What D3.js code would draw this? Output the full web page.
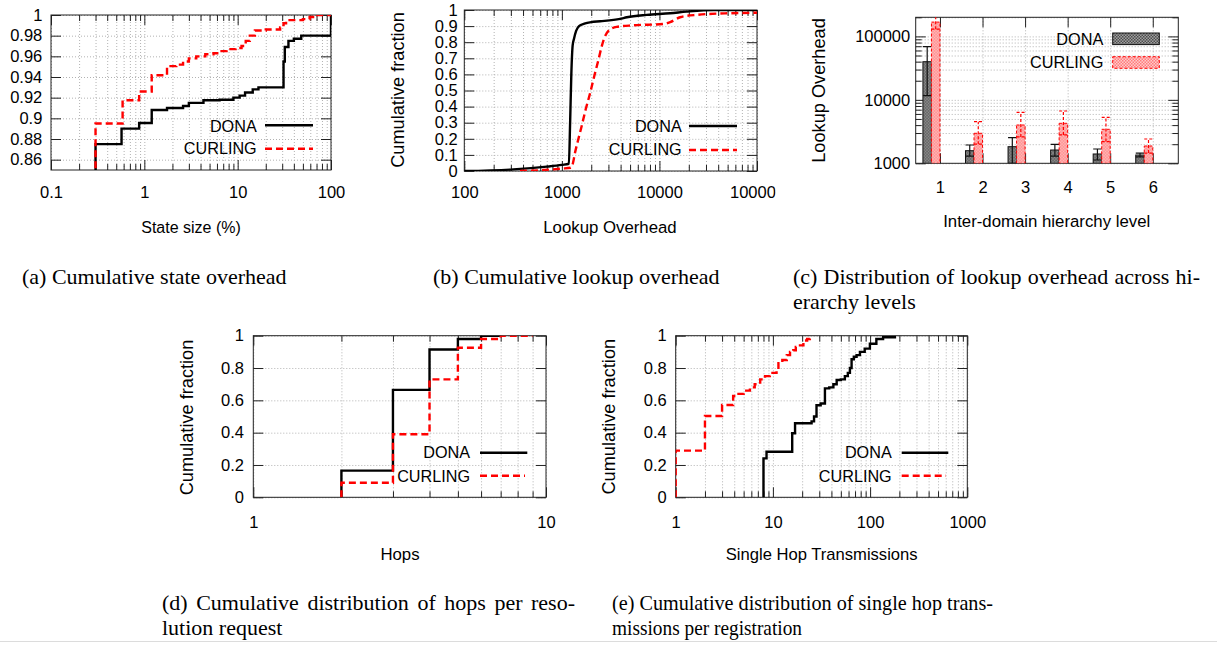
<!DOCTYPE html>
<html>
<head>
<meta charset="utf-8">
<script src="https://cdn.jsdelivr.net/npm/d3@7"></script>
<style>
  body { margin: 0; background: #fff; }
  svg { display: block; }
</style>
</head>
<body>
<svg id="fig" width="1217" height="645"></svg>
<script>
// ---------------- data ----------------
const seriesNames = ["DONA", "CURLING"];

// (a) cumulative state overhead: state size (%) vs cumulative fraction
const stateDonaX = [0.3, 0.3, 0.57, 0.88, 1.2, 1.75, 2.6, 3.0, 4.3, 6.4, 9.0, 10.5, 12, 14.5, 16.7, 31, 32, 35, 40, 48, 100];
const stateDonaY = [0, 0.875, 0.890, 0.8955, 0.908, 0.910, 0.912, 0.915, 0.9175, 0.918, 0.920, 0.922, 0.925, 0.928, 0.930, 0.955, 0.969, 0.975, 0.977, 0.980, 1.0];
const stateCurlX = [0.3, 0.3, 0.585, 0.88, 1.2, 1.75, 2.2, 2.6, 3.0, 3.6, 4.5, 5.5, 6.5, 7.6, 9.5, 11, 12.2, 13.5, 15.3, 20, 28.5, 31, 33, 50, 59, 67, 100];
const stateCurlY = [0, 0.895, 0.9175, 0.926, 0.9417, 0.9505, 0.952, 0.955, 0.958, 0.960, 0.962, 0.963, 0.965, 0.967, 0.968, 0.970, 0.975, 0.980, 0.985, 0.986, 0.988, 0.992, 0.995, 0.996, 0.998, 1.0, 1.0];
const stateXTicks = [0.1, 1, 10, 100];
const stateXLabels = ["0.1", "1", "10", "100"];
const stateYTicks = [0.86, 0.88, 0.9, 0.92, 0.94, 0.96, 0.98, 1];
const stateYLabels = ["0.86", "0.88", "0.9", "0.92", "0.94", "0.96", "0.98", "1"];

// (b) cumulative lookup overhead
const lookDonaX = [100, 318, 700, 1000, 1180, 1215, 1250, 1290, 1330, 1400, 1500, 1700, 2000, 2470, 3950, 4640, 7400, 12900, 19000, 36000, 100000];
const lookDonaY = [0, 0.01, 0.027, 0.038, 0.045, 0.3, 0.6, 0.78, 0.82, 0.87, 0.9, 0.915, 0.925, 0.93, 0.945, 0.955, 0.97, 0.98, 0.99, 1.0, 1.0];
const lookCurlX = [372, 645, 1000, 1230, 1300, 1360, 1450, 1590, 1750, 1940, 2150, 2370, 2550, 2700, 3000, 3640, 5400, 10900, 12900, 16300, 24200, 53000, 100000];
const lookCurlY = [0, 0.006, 0.015, 0.02, 0.05, 0.11, 0.18, 0.275, 0.38, 0.48, 0.59, 0.69, 0.77, 0.82, 0.87, 0.895, 0.905, 0.913, 0.925, 0.955, 0.97, 0.98, 0.983];
const lookXTicks = [100, 1000, 10000, 100000];
const lookXLabels = ["100", "1000", "10000", "100000"];
const fracYTicks10 = [0, 0.1, 0.2, 0.3, 0.4, 0.5, 0.6, 0.7, 0.8, 0.9, 1];
const fracYLabels10 = ["0", "0.1", "0.2", "0.3", "0.4", "0.5", "0.6", "0.7", "0.8", "0.9", "1"];

// (c) lookup overhead per inter-domain hierarchy level (mean with error range)
const levels = [1, 2, 3, 4, 5, 6];
const donaMean = [39900, 1580, 1827, 1620, 1402, 1351];
const donaLow  = [11620, 1300, 1000, 1300, 1127, 1260];
const donaHigh = [68800, 1942, 2530, 1992, 1680, 1450];
const curlMean = [168000, 2970, 4014, 4270, 3434, 1874];
const curlLow  = [130000, 2000, 2600, 2800, 2200, 1450];
const curlHigh = [260000, 4530, 6365, 6670, 5310, 2415];
const levelYTicks = [1000, 10000, 100000];
const levelYLabels = ["1000", "10000", "100000"];

// (d) hops per resolution request
const hopsDonaX = [2, 2, 3, 4, 5, 6, 7];
const hopsDonaY = [0, 0.165, 0.665, 0.915, 0.98, 1.0, 1.0];
const hopsCurlX = [2, 2, 3, 4, 5, 6, 7, 9];
const hopsCurlY = [0, 0.09, 0.39, 0.73, 0.925, 0.98, 1.0, 1.0];
const hopsXTicks = [1, 10];
const hopsXLabels = ["1", "10"];

// (e) single hop transmissions per registration
const txDonaX = [8, 8, 8.6, 15.8, 16.9, 25, 26.5, 28.1, 31, 34.3, 38, 41.9, 45.3, 50, 55, 59, 62, 64.5, 68, 72.6, 78.6, 88, 99.5, 116, 136, 180];
const txDonaY = [0, 0.241, 0.282, 0.396, 0.458, 0.47, 0.50, 0.57, 0.58, 0.674, 0.68, 0.70, 0.726, 0.73, 0.75, 0.77, 0.80, 0.854, 0.87, 0.88, 0.90, 0.92, 0.95, 0.98, 0.99, 1.0];
const txCurlX = [1, 1, 2, 3, 3.9, 4.3, 5, 5.8, 6.5, 7.4, 8.3, 9.3, 10.9, 11.4, 12.5, 13.9, 15, 16.2, 17.2, 18.3, 20.6, 22.5, 24];
const txCurlY = [0, 0.289, 0.503, 0.571, 0.627, 0.64, 0.66, 0.68, 0.70, 0.73, 0.75, 0.77, 0.79, 0.83, 0.85, 0.88, 0.90, 0.91, 0.93, 0.94, 0.97, 0.98, 1.0];
const txXTicks = [1, 10, 100, 1000];
const txXLabels = ["1", "10", "100", "1000"];
const fracYTicks5 = [0, 0.2, 0.4, 0.6, 0.8, 1];
const fracYLabels5 = ["0", "0.2", "0.4", "0.6", "0.8", "1"];

// sub-figure captions
const captionA = ["(a) Cumulative state overhead"];
const captionB = ["(b) Cumulative lookup overhead"];
const captionC = ["(c) Distribution of lookup overhead across hi-", "erarchy levels"];
const captionD = ["(d) Cumulative distribution of hops per reso-", "lution request"];
const captionE = ["(e) Cumulative distribution of single hop trans-", "missions per registration"];

// ---------------- drawing ----------------
const svg = d3.select("#fig");
const SANS = "'Liberation Sans', Arial, Helvetica, sans-serif";
const SERIF = "'Liberation Serif', 'Times New Roman', Times, serif";
const MAJ = 10, MIN = 6;
const TICK_FS = 16.5;
const defs = svg.append("defs");
let clipCount = 0;

// checkered fills for the histogram bars
function checker(id, light, dark) {
  const p = defs.append("pattern").attr("id", id)
    .attr("patternUnits", "userSpaceOnUse").attr("width", 3).attr("height", 3);
  p.append("rect").attr("width", 3).attr("height", 3).attr("fill", light);
  p.append("rect").attr("width", 1.5).attr("height", 1.5).attr("fill", dark);
  p.append("rect").attr("x", 1.5).attr("y", 1.5).attr("width", 1.5).attr("height", 1.5).attr("fill", dark);
}
checker("patDona", "#a0a0a0", "#4c4c4c");
checker("patCurl", "#ffcaca", "#ff7c7c");

const isDecade = v => Math.abs(Math.log10(v) - Math.round(Math.log10(v))) < 1e-9;

function panel(o) {
  const g = svg.append("g").attr("transform", `translate(${o.left},${o.top})`);
  const w = o.w, h = o.h;
  const id = "clip" + (++clipCount);
  defs.append("clipPath").attr("id", id).append("rect").attr("width", w).attr("height", h);

  // dotted grid
  const grid = g.append("g");
  grid.append("g").attr("transform", `translate(0,${h})`)
    .call(d3.axisBottom(o.x).tickValues(o.xGrid).tickSize(-h).tickFormat(""));
  grid.append("g")
    .call(d3.axisLeft(o.y).tickValues(o.yGrid).tickSize(-w).tickFormat(""));
  grid.selectAll(".domain").remove();
  grid.selectAll("line").attr("stroke", "#b2b2b2").attr("stroke-width", 1).attr("stroke-dasharray", "1,2");

  // inward ticks on all four sides
  const tk = g.append("g").attr("color", "#222");
  const bottom = tk.append("g").attr("transform", `translate(0,${h})`)
    .call(d3.axisBottom(o.x).tickValues(o.xMajor).tickSizeInner(-MAJ).tickSizeOuter(0)
      .tickPadding(o.xPad).tickFormat((d, i) => o.xLabels[i]));
  const left = tk.append("g")
    .call(d3.axisLeft(o.y).tickValues(o.yMajor).tickSizeInner(-MAJ).tickSizeOuter(0)
      .tickPadding(o.yPad).tickFormat((d, i) => o.yLabels[i]));
  tk.append("g").call(d3.axisTop(o.x).tickValues(o.xMajor).tickSizeInner(-MAJ).tickSizeOuter(0).tickFormat(""));
  tk.append("g").attr("transform", `translate(${w},0)`)
    .call(d3.axisRight(o.y).tickValues(o.yMajor).tickSizeInner(-MAJ).tickSizeOuter(0).tickFormat(""));
  if (o.xMinor && o.xMinor.length) {
    tk.append("g").attr("transform", `translate(0,${h})`)
      .call(d3.axisBottom(o.x).tickValues(o.xMinor).tickSizeInner(-MIN).tickSizeOuter(0).tickFormat(""));
    tk.append("g").call(d3.axisTop(o.x).tickValues(o.xMinor).tickSizeInner(-MIN).tickSizeOuter(0).tickFormat(""));
  }
  if (o.yMinor && o.yMinor.length) {
    tk.append("g").call(d3.axisLeft(o.y).tickValues(o.yMinor).tickSizeInner(-MIN).tickSizeOuter(0).tickFormat(""));
    tk.append("g").attr("transform", `translate(${w},0)`)
      .call(d3.axisRight(o.y).tickValues(o.yMinor).tickSizeInner(-MIN).tickSizeOuter(0).tickFormat(""));
  }
  tk.selectAll(".domain").remove();
  tk.selectAll("line").attr("stroke-width", 1);
  tk.selectAll("g").attr("font-family", SANS).attr("font-size", TICK_FS);
  tk.selectAll("text").attr("fill", "#000");

  g.append("rect").attr("width", w).attr("height", h)
    .attr("fill", "none").attr("stroke", "#222").attr("stroke-width", 1);

  const plot = g.append("g").attr("clip-path", `url(#${id})`);

  if (o.xTitle) {
    svg.append("text").attr("x", o.xTitle[1]).attr("y", o.xTitle[2])
      .attr("text-anchor", "middle").attr("font-family", SANS).attr("font-size", o.xTitle[3] || 16.5)
      .text(o.xTitle[0]);
  }
  if (o.yTitle) {
    svg.append("text").attr("transform", `translate(${o.yTitle[1]},${o.yTitle[2]}) rotate(-90)`)
      .attr("text-anchor", "middle").attr("dominant-baseline", "central")
      .attr("font-family", SANS).attr("font-size", 18.2).text(o.yTitle[0]);
  }
  return { g, plot, bottom, left };
}

function cdfLine(plot, x, y, xs, ys, dashed, curve) {
  const pts = xs.map((v, i) => [v, ys[i]]);
  const line = d3.line().x(d => x(d[0])).y(d => y(d[1])).curve(curve);
  plot.append("path").datum(pts).attr("d", line)
    .attr("fill", "none")
    .attr("stroke", dashed ? "#ff0000" : "#000")
    .attr("stroke-width", 2.4)
    .attr("stroke-linejoin", "miter")
    .attr("stroke-dasharray", dashed ? "7,4" : null);
}

function lineLegend(textRight, baseline, x1, x2, ly, label, dashed) {
  svg.append("text").attr("x", textRight).attr("y", baseline).attr("text-anchor", "end")
    .attr("font-family", SANS).attr("font-size", 16.2).text(label);
  svg.append("line").attr("x1", x1).attr("x2", x2).attr("y1", ly).attr("y2", ly)
    .attr("stroke", dashed ? "#ff0000" : "#000").attr("stroke-width", 2.4)
    .attr("stroke-dasharray", dashed ? "7,4" : null);
}

function logGrid(scale) { return scale.ticks(); }
function logMinor(scale) { return scale.ticks().filter(v => !isDecade(v)); }

// ---- (a) ----
{
  const w = 280, h = 155;
  const x = d3.scaleLog().domain([0.1, 100]).range([0, w]);
  const y = d3.scaleLinear().domain([0.85, 1]).range([h, 0]);
  const P = panel({
    left: 51, top: 15, w, h, x, y,
    xGrid: logGrid(x), yGrid: stateYTicks,
    xMajor: stateXTicks, xLabels: stateXLabels, xMinor: logMinor(x),
    yMajor: stateYTicks, yLabels: stateYLabels,
    xPad: 16.3, yPad: 8.7,
    xTitle: ["State size (%)", 191, 232.7, 16]
  });
  cdfLine(P.plot, x, y, stateDonaX, stateDonaY, false, d3.curveStepAfter);
  cdfLine(P.plot, x, y, stateCurlX, stateCurlY, true, d3.curveStepAfter);
  lineLegend(256.7, 131.5, 265, 313, 125.3, seriesNames[0], false);
  lineLegend(256.7, 154, 265, 313, 148.7, seriesNames[1], true);
}

// ---- (b) ----
{
  const w = 292.7, h = 161;
  const x = d3.scaleLog().domain([100, 100000]).range([0, w]);
  const y = d3.scaleLinear().domain([0, 1]).range([h, 0]);
  const P = panel({
    left: 464.3, top: 10, w, h, x, y,
    xGrid: logGrid(x), yGrid: fracYTicks10,
    xMajor: lookXTicks, xLabels: lookXLabels, xMinor: logMinor(x),
    yMajor: fracYTicks10, yLabels: fracYLabels10,
    xPad: 15.5, yPad: 6.5,
    xTitle: ["Lookup Overhead", 610, 232.7, 16.8],
    yTitle: ["Cumulative fraction", 398, 90]
  });
  // the last axis label runs into the neighbouring sub-figure and is cut there
  defs.append("clipPath").attr("id", "clipLookAxis").append("rect")
    .attr("x", -80).attr("y", -20).attr("width", 80 + 775.5 - 464.3).attr("height", 60);
  P.bottom.attr("clip-path", "url(#clipLookAxis)");
  cdfLine(P.plot, x, y, lookDonaX, lookDonaY, false, d3.curveMonotoneX);
  cdfLine(P.plot, x, y, lookCurlX, lookCurlY, true, d3.curveMonotoneX);
  lineLegend(681.7, 132.3, 689, 737, 126, seriesNames[0], false);
  lineLegend(681.7, 155, 689, 737, 150, seriesNames[1], true);
}

// ---- (c) ----
{
  const w = 262.6, h = 146;
  const x = d3.scaleLinear().domain([0.43, 6.6]).range([0, w]);
  const y = d3.scaleLog().domain([1000, 200000]).range([h, 0]);
  const yAll = y.ticks();
  const P = panel({
    left: 915.7, top: 17.3, w, h, x, y,
    xGrid: levels, yGrid: yAll,
    xMajor: levels, xLabels: levels.map(String), xMinor: [],
    yMajor: levelYTicks, yLabels: levelYLabels, yMinor: yAll.filter(v => !isDecade(v)),
    xPad: 18, yPad: 5.5,
    xTitle: ["Inter-domain hierarchy level", 1046.7, 226.7, 16.8],
    yTitle: ["Lookup Overhead", 818.5, 90.5]
  });
  const plot = P.plot;
  const base = y.domain()[0];
  const groups = [
    { mean: donaMean, low: donaLow, high: donaHigh, off: -0.4, fill: "url(#patDona)", stroke: "#111", dash: null },
    { mean: curlMean, low: curlLow, high: curlHigh, off: -0.2, fill: "url(#patCurl)", stroke: "#ff0000", dash: "3,2" }
  ];
  const bw = 0.2;
  groups.forEach(s => {
    plot.append("g").selectAll("rect").data(levels).join("rect")
      .attr("x", d => x(d + s.off))
      .attr("width", d => x(d + s.off + bw) - x(d + s.off))
      .attr("y", (d, i) => y(s.mean[i]))
      .attr("height", (d, i) => y(base) - y(s.mean[i]))
      .attr("fill", s.fill).attr("stroke", s.stroke).attr("stroke-width", 1)
      .attr("stroke-dasharray", s.dash);
    const eb = plot.append("g").attr("stroke", s.stroke).attr("stroke-width", 1.2)
      .attr("stroke-dasharray", s.dash);
    levels.forEach((d, i) => {
      const cx = x(d + s.off + bw / 2), hw = (x(d + bw) - x(d)) / 2;
      eb.append("line").attr("x1", cx).attr("x2", cx).attr("y1", y(s.low[i])).attr("y2", y(s.high[i]));
      eb.append("line").attr("x1", cx - hw).attr("x2", cx + hw).attr("y1", y(s.high[i])).attr("y2", y(s.high[i]));
      eb.append("line").attr("x1", cx - hw).attr("x2", cx + hw).attr("y1", y(s.low[i])).attr("y2", y(s.low[i]));
    });
  });
  // legend with filled swatches
  const lg = [
    { label: seriesNames[0], base: 45, top: 33, fill: "url(#patDona)", stroke: "#111", dash: null },
    { label: seriesNames[1], base: 68.3, top: 56.7, fill: "url(#patCurl)", stroke: "#ff0000", dash: "3,2" }
  ];
  lg.forEach(l => {
    svg.append("text").attr("x", 1103.3).attr("y", l.base).attr("text-anchor", "end")
      .attr("font-family", SANS).attr("font-size", 16.3).text(l.label);
    svg.append("rect").attr("x", 1112.7).attr("y", l.top).attr("width", 46.6).attr("height", 11.6)
      .attr("fill", l.fill).attr("stroke", l.stroke).attr("stroke-width", 1).attr("stroke-dasharray", l.dash);
  });
}

// ---- (d) ----
{
  const w = 292.7, h = 161.6;
  const x = d3.scaleLog().domain([1, 10]).range([0, w]);
  const y = d3.scaleLinear().domain([0, 1]).range([h, 0]);
  const P = panel({
    left: 253.3, top: 335.7, w, h, x, y,
    xGrid: logGrid(x), yGrid: fracYTicks5,
    xMajor: hopsXTicks, xLabels: hopsXLabels, xMinor: logMinor(x),
    yMajor: fracYTicks5, yLabels: fracYLabels5,
    xPad: 19, yPad: 9.3,
    xTitle: ["Hops", 400, 560, 16.8],
    yTitle: ["Cumulative fraction", 187, 417.5]
  });
  cdfLine(P.plot, x, y, hopsDonaX, hopsDonaY, false, d3.curveStepAfter);
  cdfLine(P.plot, x, y, hopsCurlX, hopsCurlY, true, d3.curveStepAfter);
  lineLegend(470, 458.3, 480, 527.3, 452.7, seriesNames[0], false);
  lineLegend(470, 481.7, 480, 525, 475.7, seriesNames[1], true);
}

// ---- (e) ----
{
  const w = 291.6, h = 161.6;
  const x = d3.scaleLog().domain([1, 1000]).range([0, w]);
  const y = d3.scaleLinear().domain([0, 1]).range([h, 0]);
  const P = panel({
    left: 675.7, top: 335.7, w, h, x, y,
    xGrid: logGrid(x), yGrid: fracYTicks5,
    xMajor: txXTicks, xLabels: txXLabels, xMinor: logMinor(x),
    yMajor: fracYTicks5, yLabels: fracYLabels5,
    xPad: 19, yPad: 9,
    xTitle: ["Single Hop Transmissions", 821.7, 560, 16.6],
    yTitle: ["Cumulative fraction", 608.5, 416.7]
  });
  cdfLine(P.plot, x, y, txDonaX, txDonaY, false, d3.curveStepAfter);
  cdfLine(P.plot, x, y, txCurlX, txCurlY, true, d3.curveStepAfter);
  lineLegend(891.7, 458.3, 901.7, 948.3, 452.7, seriesNames[0], false);
  lineLegend(891.7, 481.7, 901.7, 946, 475.7, seriesNames[1], true);
}

// ---- captions ----
// widths: justified width of the first line; fits: set widths for narrower (condensed) lines
function caption(x, y, lines, width, fits) {
  lines.forEach((txt, i) => {
    const t = svg.append("text").attr("x", x).attr("y", y + i * 24.5)
      .attr("font-family", SERIF).attr("font-size", 22).text(txt);
    const fit = fits && fits[i];
    if (fit) {
      t.attr("textLength", fit).attr("lengthAdjust", "spacingAndGlyphs");
    } else if (width && i < lines.length - 1) {
      const natural = t.node().getComputedTextLength();
      const spaces = (txt.match(/ /g) || []).length;
      if (spaces && natural < width) t.style("word-spacing", ((width - natural) / spaces) + "px");
    }
  });
}
caption(22, 284, captionA);
caption(433, 284, captionB);
caption(793, 284, captionC, 407);
caption(162, 610, captionD, 413);
caption(612, 610, captionE, null, [381, 190]);

// faint rule along the bottom edge
svg.append("line").attr("x1", 0).attr("x2", 1217).attr("y1", 641.5).attr("y2", 641.5)
  .attr("stroke", "#dcdcdc").attr("stroke-width", 1);
</script>
</body>
</html>
